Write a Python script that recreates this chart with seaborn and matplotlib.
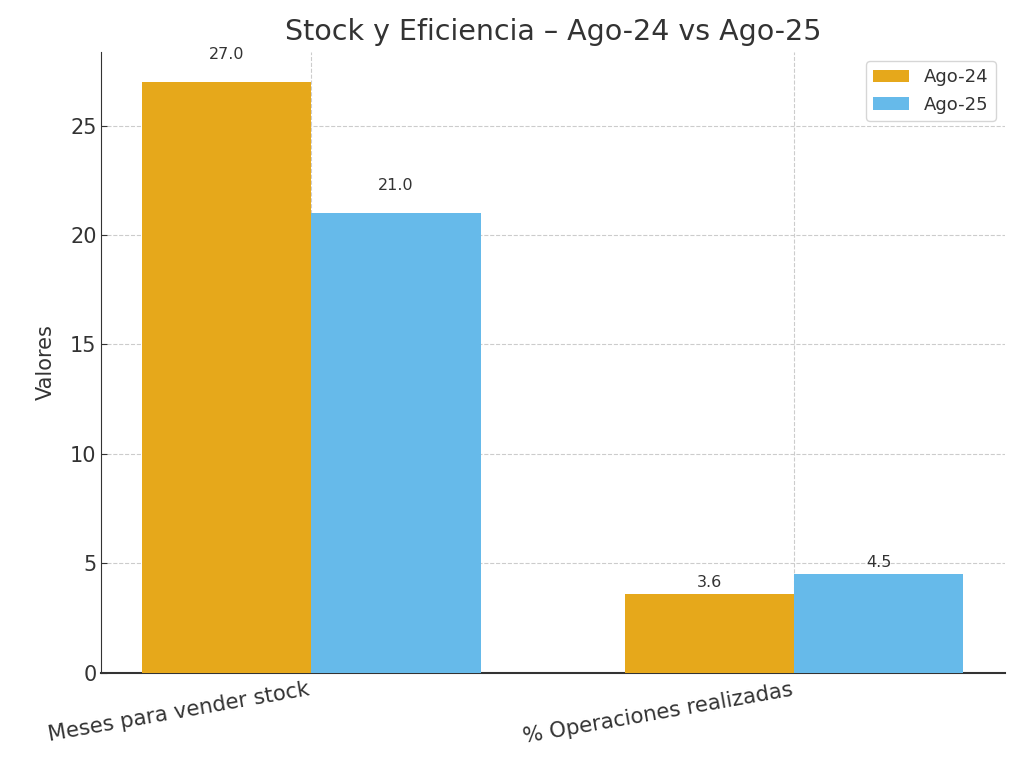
import pandas as pd
import numpy as np
import matplotlib
matplotlib.use("Agg")
import matplotlib.pyplot as plt
import seaborn as sns

categories = ["Meses para vender stock", "% Operaciones realizadas"]
periods = ["Ago-24", "Ago-25"]
ago24 = [27.0, 3.6]
ago25 = [21.0, 4.5]

df = pd.DataFrame({
    "categoria": categories * 2,
    "periodo": [periods[0]] * 2 + [periods[1]] * 2,
    "valor": ago24 + ago25,
})

sns.set_style("whitegrid", {"grid.linestyle": "--", "grid.color": "#cccccc",
                            "axes.edgecolor": "#333333"})
plt.rcParams["font.family"] = ["DejaVu Sans"]
plt.rcParams["text.color"] = "#333333"
plt.rcParams["axes.labelcolor"] = "#333333"
plt.rcParams["xtick.color"] = "#333333"
plt.rcParams["ytick.color"] = "#333333"

fig, ax = plt.subplots(figsize=(10.24, 7.68), dpi=100)
sns.barplot(data=df, x="categoria", y="valor", hue="periodo",
            palette=["#E6A81B", "#66BAEA"], width=0.7, saturation=1,
            linewidth=0, ax=ax, zorder=3)

for container in ax.containers:
    for bar in container:
        h = bar.get_height()
        off = 0.9 if h > 10 else 0.2
        ax.text(bar.get_x() + bar.get_width() / 2, h + off, f"{h:.1f}",
                ha="center", va="bottom", fontsize=11.5, color="#333333")

ax.set_title("Stock y Eficiencia – Ago-24 vs Ago-25", fontsize=20.5, pad=9)
ax.set_ylabel("Valores", fontsize=15, labelpad=10)
ax.set_xlabel("")
ax.tick_params(axis="y", labelsize=15, left=True, direction="in",
               length=4, color="#333333")
ax.tick_params(axis="x", labelsize=15.3, bottom=True, direction="in",
               length=4, color="#333333", pad=5)
plt.setp(ax.get_xticklabels(), rotation=10, ha="right")
ax.grid(True, axis="both", linestyle="--", color="#cccccc", zorder=0)
ax.set_axisbelow(True)
sns.despine(ax=ax)
ax.spines["left"].set_color("#333333")
ax.spines["bottom"].set_color("#333333")
ax.spines["bottom"].set_linewidth(1.5)
ax.set_xlim(-0.435, 1.435)
ax.set_ylim(0, 28.35)
ax.legend(title=None, fontsize=13, loc="upper right")

fig.subplots_adjust(left=0.099, right=0.981, top=0.932, bottom=0.124)
fig.savefig("out.png", dpi=100)
